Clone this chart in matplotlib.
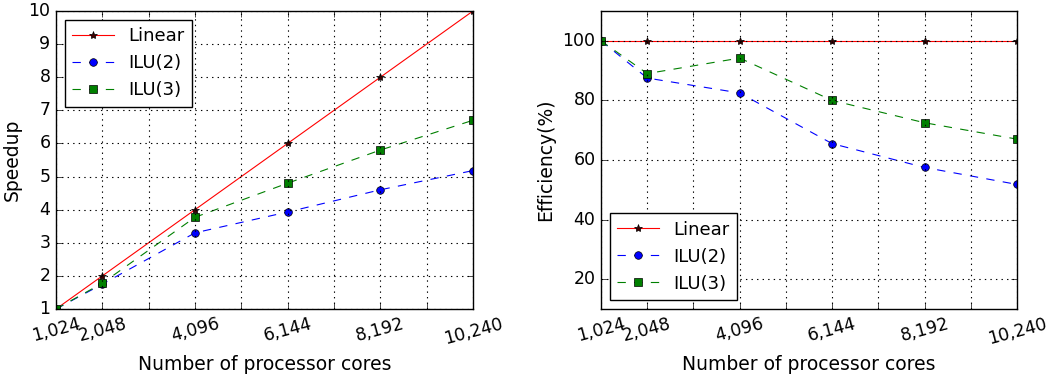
import matplotlib
matplotlib.use("Agg")
import matplotlib.pyplot as plt
from matplotlib.ticker import FixedLocator, FixedFormatter

plt.style.use('classic')

cores = [1024, 2048, 4096, 6144, 8192, 10240]
tick_labels = ["1,024", "2,048", "", "4,096", "", "6,144", "", "8,192", "", "10,240"]
tick_pos = [1024 * k for k in range(1, 11)]

speedup_linear = [1, 2, 4, 6, 8, 10]
speedup_ilu2 = [1, 1.75, 3.3, 3.93, 4.6, 5.18]
speedup_ilu3 = [1, 1.78, 3.77, 4.8, 5.8, 6.7]

eff_linear = [100, 100, 100, 100, 100, 100]
eff_ilu2 = [100, 87.5, 82.5, 65.5, 57.5, 51.8]
eff_ilu3 = [100, 89.0, 94.2, 80.0, 72.5, 67.0]

fig = plt.figure(figsize=(10.51, 3.77), dpi=100, facecolor='white')
ax1 = fig.add_axes([56/1051, 1-309/377, (473-56)/1051, (309-11)/377])
ax2 = fig.add_axes([601/1051, 1-309/377, (1017-601)/1051, (309-11)/377])

def draw(ax, lin, i2, i3):
    ax.plot(cores, lin, '-', color='r', marker='*', mfc='#400000', mec='k', ms=6, lw=0.8, label='Linear')
    ax.plot(cores, i2, '--', color='b', marker='o', mfc='b', mec='k', ms=5.5, lw=0.8, label='ILU(2)')
    ax.plot(cores, i3, '--', color='g', marker='s', mfc='g', mec='k', ms=5.5, lw=0.8, label='ILU(3)')
    ax.set_xlim(1024, 10240)
    ax.xaxis.set_major_locator(FixedLocator(tick_pos))
    ax.xaxis.set_major_formatter(FixedFormatter(tick_labels))
    for t in ax.get_xticklabels():
        t.set_rotation(15)
    ax.tick_params(labelsize=12.5)
    ax.grid(True, color='k', linestyle=':', linewidth=0.8)
    ax.set_xlabel('Number of processor cores', fontsize=13.5)

draw(ax1, speedup_linear, speedup_ilu2, speedup_ilu3)
ax1.set_ylim(1, 10)
ax1.set_yticks(range(1, 11))
ax1.set_ylabel('Speedup', fontsize=13.5)
ax1.legend(loc='upper left', numpoints=1, fontsize=13, fancybox=False, handlelength=2.3)

draw(ax2, eff_linear, eff_ilu2, eff_ilu3)
ax2.set_ylim(10, 110)
ax2.set_yticks([20, 40, 60, 80, 100])
ax2.set_ylabel('Efficiency(%)', fontsize=13.5)
ax2.legend(loc='lower left', numpoints=1, fontsize=13, fancybox=False, handlelength=2.3)

fig.savefig('out.png', dpi=100, facecolor='white')
